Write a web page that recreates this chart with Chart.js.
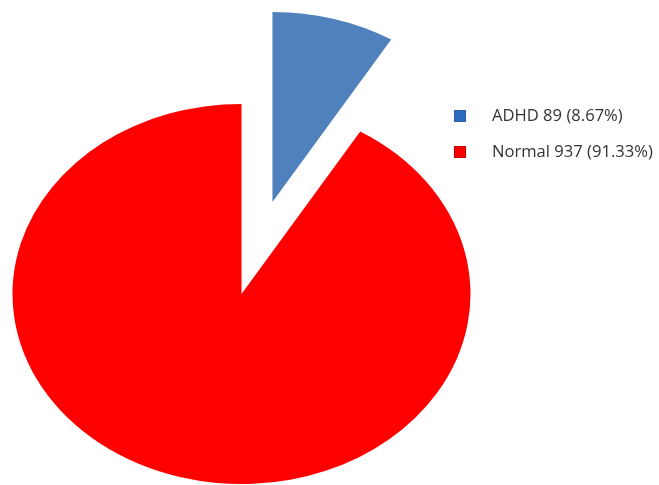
<!DOCTYPE html>
<html>
<head>
<meta charset="utf-8">
<script src="https://cdn.jsdelivr.net/npm/chart.js@4"></script>
<style>
  html, body { margin: 0; padding: 0; background: #fff; }
  #wrap { width: 659px; height: 485px; }
</style>
</head>
<body>
<div id="wrap"><canvas id="chartPie"></canvas></div>
<script>
const categorias = ["ADHD", "Normal"];
const contagens  = [89, 937];
const cores      = ["#4f81bd", "#ff0000"];
const coresLeg   = ["#2b6cc0", "#ff0000"];
const bordasLeg  = ["#2f5f9e", "#c00000"];
const explodir   = [115, 0];   // px the slice is pulled out

const total = contagens.reduce((s, v) => s + v, 0);
const rotulos = categorias.map((c, i) =>
  `${c} ${contagens[i]} (${(contagens[i] / total * 100).toFixed(2)}%)`);

const ESCALA_Y = 0.83;

// the original pie is an ellipse with one slice pulled straight out (same radius),
// so each arc is drawn here with its own translate + vertical squash
const elipse = {
  id: "elipse",
  beforeDatasetsDraw(chart) {
    const ctx = chart.ctx;
    chart.getDatasetMeta(0).data.forEach((arc, i) => {
      const meio = (arc.startAngle + arc.endAngle) / 2;
      const d = explodir[i] || 0;
      ctx.save();
      ctx.translate(arc.x, arc.y);
      ctx.scale(1, ESCALA_Y);
      ctx.translate(-arc.x, -arc.y);
      ctx.translate(Math.cos(meio) * d, Math.sin(meio) * d);
      arc.draw(ctx, chart.chartArea);
      ctx.restore();
    });
    return false;
  }
};

const legenda = {
  id: "legenda",
  afterDraw(chart) {
    const ctx = chart.ctx;
    ctx.save();
    ctx.font = "16.6px 'Open Sans', sans-serif";
    ctx.textBaseline = "middle";
    chart.data.labels.forEach((txt, i) => {
      const y = 116 + i * 36;
      ctx.fillStyle = coresLeg[i];
      ctx.fillRect(454, y - 6, 12, 12);
      ctx.strokeStyle = bordasLeg[i];
      ctx.lineWidth = 1;
      ctx.strokeRect(454.5, y - 5.5, 11, 11);
      ctx.fillStyle = "#333333";
      ctx.fillText(txt, 492, y);
    });
    ctx.restore();
  }
};

new Chart(document.getElementById("chartPie"), {
  type: "pie",
  data: {
    labels: rotulos,
    datasets: [{
      data: contagens,
      backgroundColor: cores,
      borderWidth: 0,
    }]
  },
  options: {
    responsive: true,
    maintainAspectRatio: false,
    animation: false,
    radius: 229,
    layout: { padding: { left: 0, right: 176, top: 103, bottom: 0 } },
    plugins: {
      legend: { display: false },
      tooltip: { enabled: false }
    }
  },
  plugins: [elipse, legenda]
});
</script>
</body>
</html>
